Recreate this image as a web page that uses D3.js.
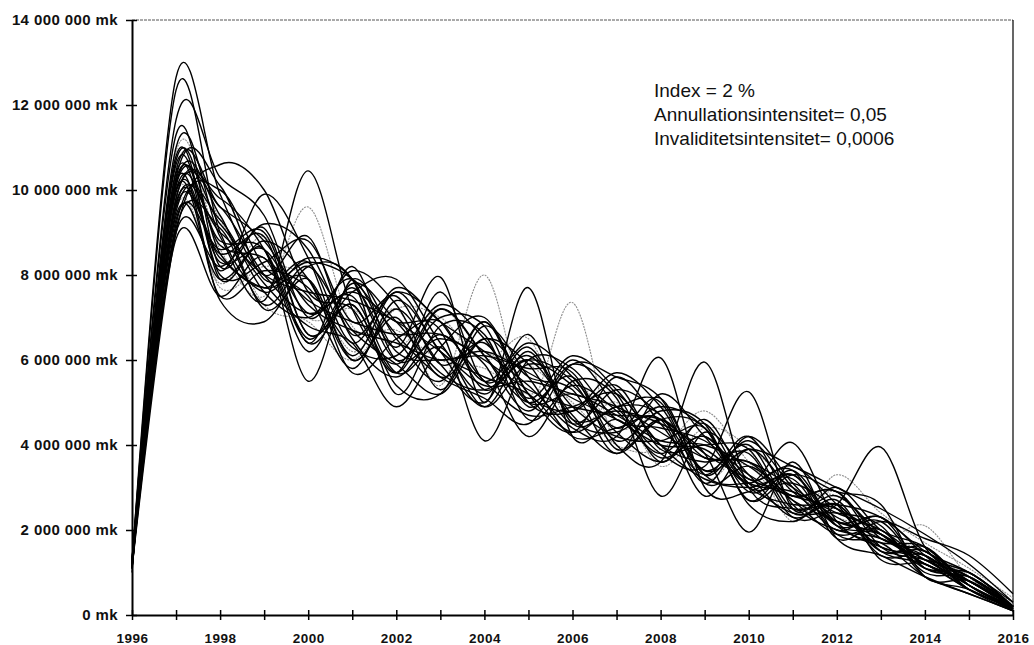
<!DOCTYPE html>
<html><head><meta charset="utf-8">
<script src="https://cdn.jsdelivr.net/npm/d3@7"></script>
<style>
html,body{margin:0;padding:0;background:#fff;}
svg{display:block;}
text{font-family:"Liberation Sans",Arial,sans-serif;}
</style></head>
<body>
<svg id="chart" width="1034" height="645"></svg>
<script>
// years on the x axis
const years = d3.range(1996, 2017);
const xTickLabels = [1996, 1998, 2000, 2002, 2004, 2006, 2008, 2010, 2012, 2014, 2016];
const yTicks = [0, 2e6, 4e6, 6e6, 8e6, 10e6, 12e6, 14e6];
const annotation = ["Index = 2 %", "Annullationsintensitet= 0,05", "Invaliditetsintensitet= 0,0006"];

// simulated paths, values in millions of mk (1996..2016)
const s01 = [1.2, 12.65, 9.9, 8.0, 8.9, 6.6, 7.6, 6.9, 5.5, 6.4, 5.6, 4.4, 5.1, 3.3, 4.1, 3.0, 2.0, 2.3, 1.1, 1.0, 0.2];
const s02 = [1.1, 12.35, 9.0, 7.6, 8.4, 7.9, 6.0, 7.0, 6.8, 4.9, 5.9, 5.2, 3.6, 4.6, 3.2, 3.5, 2.6, 1.5, 1.6, 0.7, 0.15];
const s03 = [1.3, 11.65, 10.3, 9.4, 7.0, 8.1, 7.3, 5.6, 6.5, 5.9, 4.5, 5.3, 4.7, 3.4, 4.0, 2.5, 2.8, 1.9, 1.2, 0.8, 0.2];
const s04 = [1.2, 11.3, 8.2, 9.1, 6.6, 7.6, 7.9, 6.4, 5.2, 6.3, 4.6, 4.3, 4.9, 4.4, 2.9, 3.3, 2.2, 2.3, 1.4, 0.6, 0.1];
const s05 = [1.0, 11.0, 8.9, 7.4, 10.45, 7.2, 5.9, 7.2, 6.1, 5.0, 5.6, 3.9, 4.6, 3.7, 3.6, 2.7, 1.9, 2.0, 1.0, 0.9, 0.2];
const s06 = [1.2, 10.8, 7.9, 8.6, 5.5, 7.9, 6.5, 5.5, 6.9, 5.2, 4.8, 5.4, 3.9, 4.0, 3.9, 2.4, 2.6, 1.5, 1.5, 0.6, 0.2];
const s07 = [1.1, 9.0, 10.6, 10.0, 7.6, 7.2, 5.7, 7.6, 5.5, 6.1, 4.9, 4.2, 4.1, 4.4, 2.7, 3.4, 2.1, 1.7, 1.6, 0.7, 0.15];
const s08 = [1.2, 10.4, 8.1, 9.9, 8.4, 6.0, 7.2, 5.9, 5.0, 6.6, 4.5, 4.9, 5.0, 3.1, 3.5, 2.8, 2.9, 1.6, 1.3, 1.0, 0.2];
const s09 = [1.3, 10.2, 7.4, 6.9, 8.2, 7.9, 5.2, 6.8, 6.6, 4.6, 5.4, 4.8, 3.7, 4.2, 3.1, 2.4, 2.4, 2.1, 0.9, 0.6, 0.1];
const s10 = [1.2, 10.1, 9.2, 7.8, 6.8, 6.4, 4.9, 6.3, 7.0, 5.2, 4.3, 5.6, 4.5, 3.3, 4.2, 2.6, 2.0, 1.8, 1.2, 0.8, 0.2];
const s11 = [1.1, 10.0, 8.8, 8.6, 6.5, 7.7, 6.3, 7.95, 5.0, 7.7, 4.2, 4.6, 3.8, 4.5, 3.0, 3.1, 2.5, 1.6, 1.4, 0.7, 0.2];
const s12 = [1.2, 9.9, 7.7, 8.2, 7.9, 6.2, 7.2, 5.4, 8.0, 5.0, 7.35, 4.0, 4.9, 3.2, 3.9, 2.9, 2.3, 2.0, 1.3, 0.9, 0.25];
const s13 = [1.2, 9.8, 9.6, 8.0, 7.1, 7.6, 6.9, 6.7, 4.1, 6.0, 5.8, 4.6, 4.4, 4.1, 3.3, 2.8, 2.9, 1.8, 1.5, 0.8, 0.2];
const s14 = [1.1, 9.7, 8.5, 8.9, 6.4, 8.2, 6.0, 6.5, 5.9, 4.2, 5.5, 5.1, 2.8, 4.3, 3.3, 2.3, 2.6, 1.5, 1.2, 0.6, 0.15];
const s15 = [1.3, 9.6, 8.4, 7.7, 8.3, 6.4, 7.7, 6.9, 6.2, 5.4, 4.4, 4.2, 6.05, 3.0, 2.9, 3.3, 2.1, 2.2, 1.1, 0.9, 0.2];
const s16 = [1.2, 9.5, 9.3, 7.6, 7.0, 7.9, 6.2, 6.0, 6.1, 5.8, 5.7, 4.0, 3.6, 5.95, 3.0, 2.5, 2.5, 1.4, 1.4, 0.6, 0.2];
const s17 = [1.1, 9.4, 7.9, 8.8, 7.9, 6.0, 7.0, 5.3, 6.8, 5.6, 4.2, 4.4, 4.6, 2.8, 3.9, 2.9, 2.2, 1.9, 1.1, 1.0, 0.2];
const s18 = [1.2, 9.3, 8.6, 9.0, 6.6, 7.3, 5.7, 7.2, 6.1, 4.8, 6.0, 4.9, 3.8, 3.5, 5.25, 2.5, 3.0, 2.0, 1.6, 0.7, 0.2];
const s19 = [1.2, 9.2, 10.0, 8.2, 7.5, 5.8, 7.4, 6.2, 4.9, 6.2, 4.6, 4.8, 4.5, 3.8, 1.95, 3.6, 1.8, 1.4, 0.9, 0.5, 0.1];
const s20 = [1.2, 9.1, 9.1, 7.3, 8.2, 6.7, 5.9, 5.2, 6.5, 5.6, 5.3, 3.8, 5.2, 4.2, 3.1, 4.05, 2.2, 1.6, 1.3, 0.7, 0.2];
const s21 = [1.1, 9.0, 8.2, 9.2, 8.6, 6.5, 5.6, 6.6, 5.5, 4.7, 4.9, 5.2, 4.0, 3.6, 3.8, 2.3, 2.6, 3.95, 1.6, 0.9, 0.2];
const s22 = [1.3, 8.85, 7.5, 8.4, 6.2, 7.8, 6.9, 5.7, 5.3, 6.0, 5.5, 4.1, 4.8, 4.5, 2.7, 3.3, 2.9, 2.6, 0.9, 0.8, 0.15];
const s23 = [1.2, 10.5, 9.3, 7.3, 6.9, 6.0, 7.2, 7.0, 6.0, 6.5, 4.4, 5.0, 3.5, 4.4, 3.9, 2.2, 3.3, 2.4, 1.7, 1.1, 0.4];
const s24 = [1.2, 10.0, 7.5, 8.1, 7.7, 6.3, 6.1, 7.3, 6.5, 5.1, 6.1, 5.3, 4.0, 3.2, 3.0, 3.2, 1.9, 1.7, 0.9, 0.5, 0.1];
const s25 = [1.1, 9.8, 9.8, 8.6, 6.4, 7.3, 5.4, 5.2, 6.9, 5.0, 4.8, 5.7, 4.9, 3.4, 3.9, 3.5, 3.0, 2.5, 1.9, 1.2, 0.3];
const s26 = [1.2, 10.7, 8.5, 7.7, 7.9, 5.7, 6.5, 6.9, 5.3, 6.0, 4.7, 3.8, 4.6, 4.4, 2.6, 2.2, 2.7, 1.3, 1.2, 0.6, 0.15];
const s27 = [1.2, 10.3, 10.1, 7.9, 8.3, 7.9, 6.6, 5.6, 5.1, 4.5, 5.9, 5.6, 5.1, 3.3, 3.1, 3.4, 1.8, 2.2, 1.8, 1.4, 0.5];
const s28 = [1.1, 9.55, 7.8, 8.9, 7.0, 7.2, 6.3, 7.2, 6.2, 5.9, 5.0, 4.0, 3.9, 4.8, 3.6, 2.5, 2.9, 1.8, 2.1, 0.9, 0.2];
const s29 = [1.2, 10.15, 9.4, 7.2, 7.9, 6.1, 7.6, 6.2, 5.6, 5.2, 4.3, 4.9, 4.7, 3.1, 4.2, 3.1, 2.1, 1.9, 1.2, 0.8, 0.1];
const s30 = [1.3, 9.95, 8.3, 8.6, 7.1, 7.5, 5.7, 6.3, 4.9, 5.9, 5.4, 4.3, 3.6, 4.2, 3.0, 2.6, 2.6, 2.3, 1.5, 1.0, 0.3];
const s31 = [1.2, 10.9, 8.6, 7.5, 9.6, 6.8, 6.7, 6.0, 5.8, 5.2, 5.6, 4.4, 4.6, 3.7, 3.5, 2.8, 2.8, 1.9, 1.5, 0.9, 0.3];
const s32 = [1.2, 10.6, 8.0, 8.3, 8.8, 6.9, 7.5, 5.9, 6.4, 5.0, 5.2, 4.7, 4.1, 4.0, 3.5, 2.7, 2.2, 1.9, 1.2, 0.8, 0.2];
const s33 = [1.1, 10.45, 9.6, 8.8, 7.3, 6.7, 6.4, 6.0, 6.2, 5.7, 5.1, 4.6, 4.0, 3.9, 3.1, 2.9, 2.4, 2.0, 1.3, 0.9, 0.2];
const s34 = [1.2, 9.65, 9.0, 8.0, 7.6, 7.4, 6.9, 6.2, 5.4, 5.5, 5.2, 4.9, 4.3, 3.7, 3.6, 3.0, 2.3, 1.8, 1.4, 0.8, 0.2];
const s35 = [1.2, 10.25, 8.7, 8.4, 7.4, 6.9, 6.6, 6.6, 6.0, 5.3, 4.9, 4.7, 4.6, 3.8, 3.2, 2.8, 2.5, 1.9, 1.3, 0.7, 0.15];

const solidSeries = [s01, s02, s03, s04, s05, s06, s07, s08, s09, s10, s11, s13, s14, s15, s16, s17, s18,
  s19, s20, s21, s22, s24, s25, s26, s27, s29, s30, s32, s33, s34, s35];
const faintSeries = [s12, s23, s28, s31];

const svg = d3.select("#chart");
const x = d3.scaleLinear().domain([1996, 2016]).range([132, 1013]);
const y = d3.scaleLinear().domain([0, 14e6]).range([615, 20]);

const line = d3.line()
  .x((d, i) => x(years[i]))
  .y(d => y(d * 1e6))
  .curve(d3.curveCardinal.tension(0));

// frame (top and right)
svg.append("line").attr("x1", x(1996)).attr("x2", x(2016)).attr("y1", y(14e6)).attr("y2", y(14e6))
  .attr("stroke", "#555").attr("stroke-width", 1).attr("stroke-dasharray", "3,1");
svg.append("line").attr("x1", x(2016)).attr("x2", x(2016)).attr("y1", y(14e6)).attr("y2", y(0))
  .attr("stroke", "#000").attr("stroke-width", 1.2);

const plot = svg.append("g");
plot.selectAll("path.faint").data(faintSeries).join("path")
  .attr("class", "faint")
  .attr("d", line).attr("fill", "none")
  .attr("stroke", "#8c8c8c").attr("stroke-width", 1.1).attr("stroke-dasharray", "2,1");
plot.selectAll("path.solid").data(solidSeries).join("path")
  .attr("class", "solid")
  .attr("d", line).attr("fill", "none")
  .attr("stroke", "#000").attr("stroke-width", 1.4);

// y axis
const fmt = v => d3.format(",")(v).replace(/,/g, " ") + " mk";
const yAxis = svg.append("g").attr("transform", `translate(${x(1996)},0)`)
  .call(d3.axisLeft(y).tickValues(yTicks).tickFormat(fmt).tickSize(0).tickPadding(14));
yAxis.select(".domain").attr("stroke-width", 2);
yAxis.selectAll(".tick line").attr("x1", -6).attr("x2", 5).attr("stroke-width", 1.5);
yAxis.selectAll("text").attr("font-size", 15).attr("font-weight", "bold").attr("letter-spacing", 0.4)
  .attr("font-family", "'Liberation Sans', Arial, sans-serif").attr("fill", "#111");

// x axis
const xAxis = svg.append("g").attr("transform", `translate(0,${y(0)})`)
  .call(d3.axisBottom(x).tickValues(years).tickFormat(d => xTickLabels.includes(d) ? String(d) : "").tickSize(0).tickPadding(18));
xAxis.select(".domain").attr("stroke-width", 2);
xAxis.selectAll(".tick line").attr("y1", -5).attr("y2", 5).attr("stroke-width", 1.5);
xAxis.selectAll("text").attr("font-size", 13.5).attr("font-weight", "bold").attr("letter-spacing", 0.5)
  .attr("font-family", "'Liberation Sans', Arial, sans-serif").attr("fill", "#111");

// annotation
svg.append("g").selectAll("text").data(annotation).join("text")
  .attr("x", 654).attr("y", (d, i) => 97 + i * 24)
  .attr("font-size", 19).attr("fill", "#111")
  .text(d => d);
</script>
</body></html>
